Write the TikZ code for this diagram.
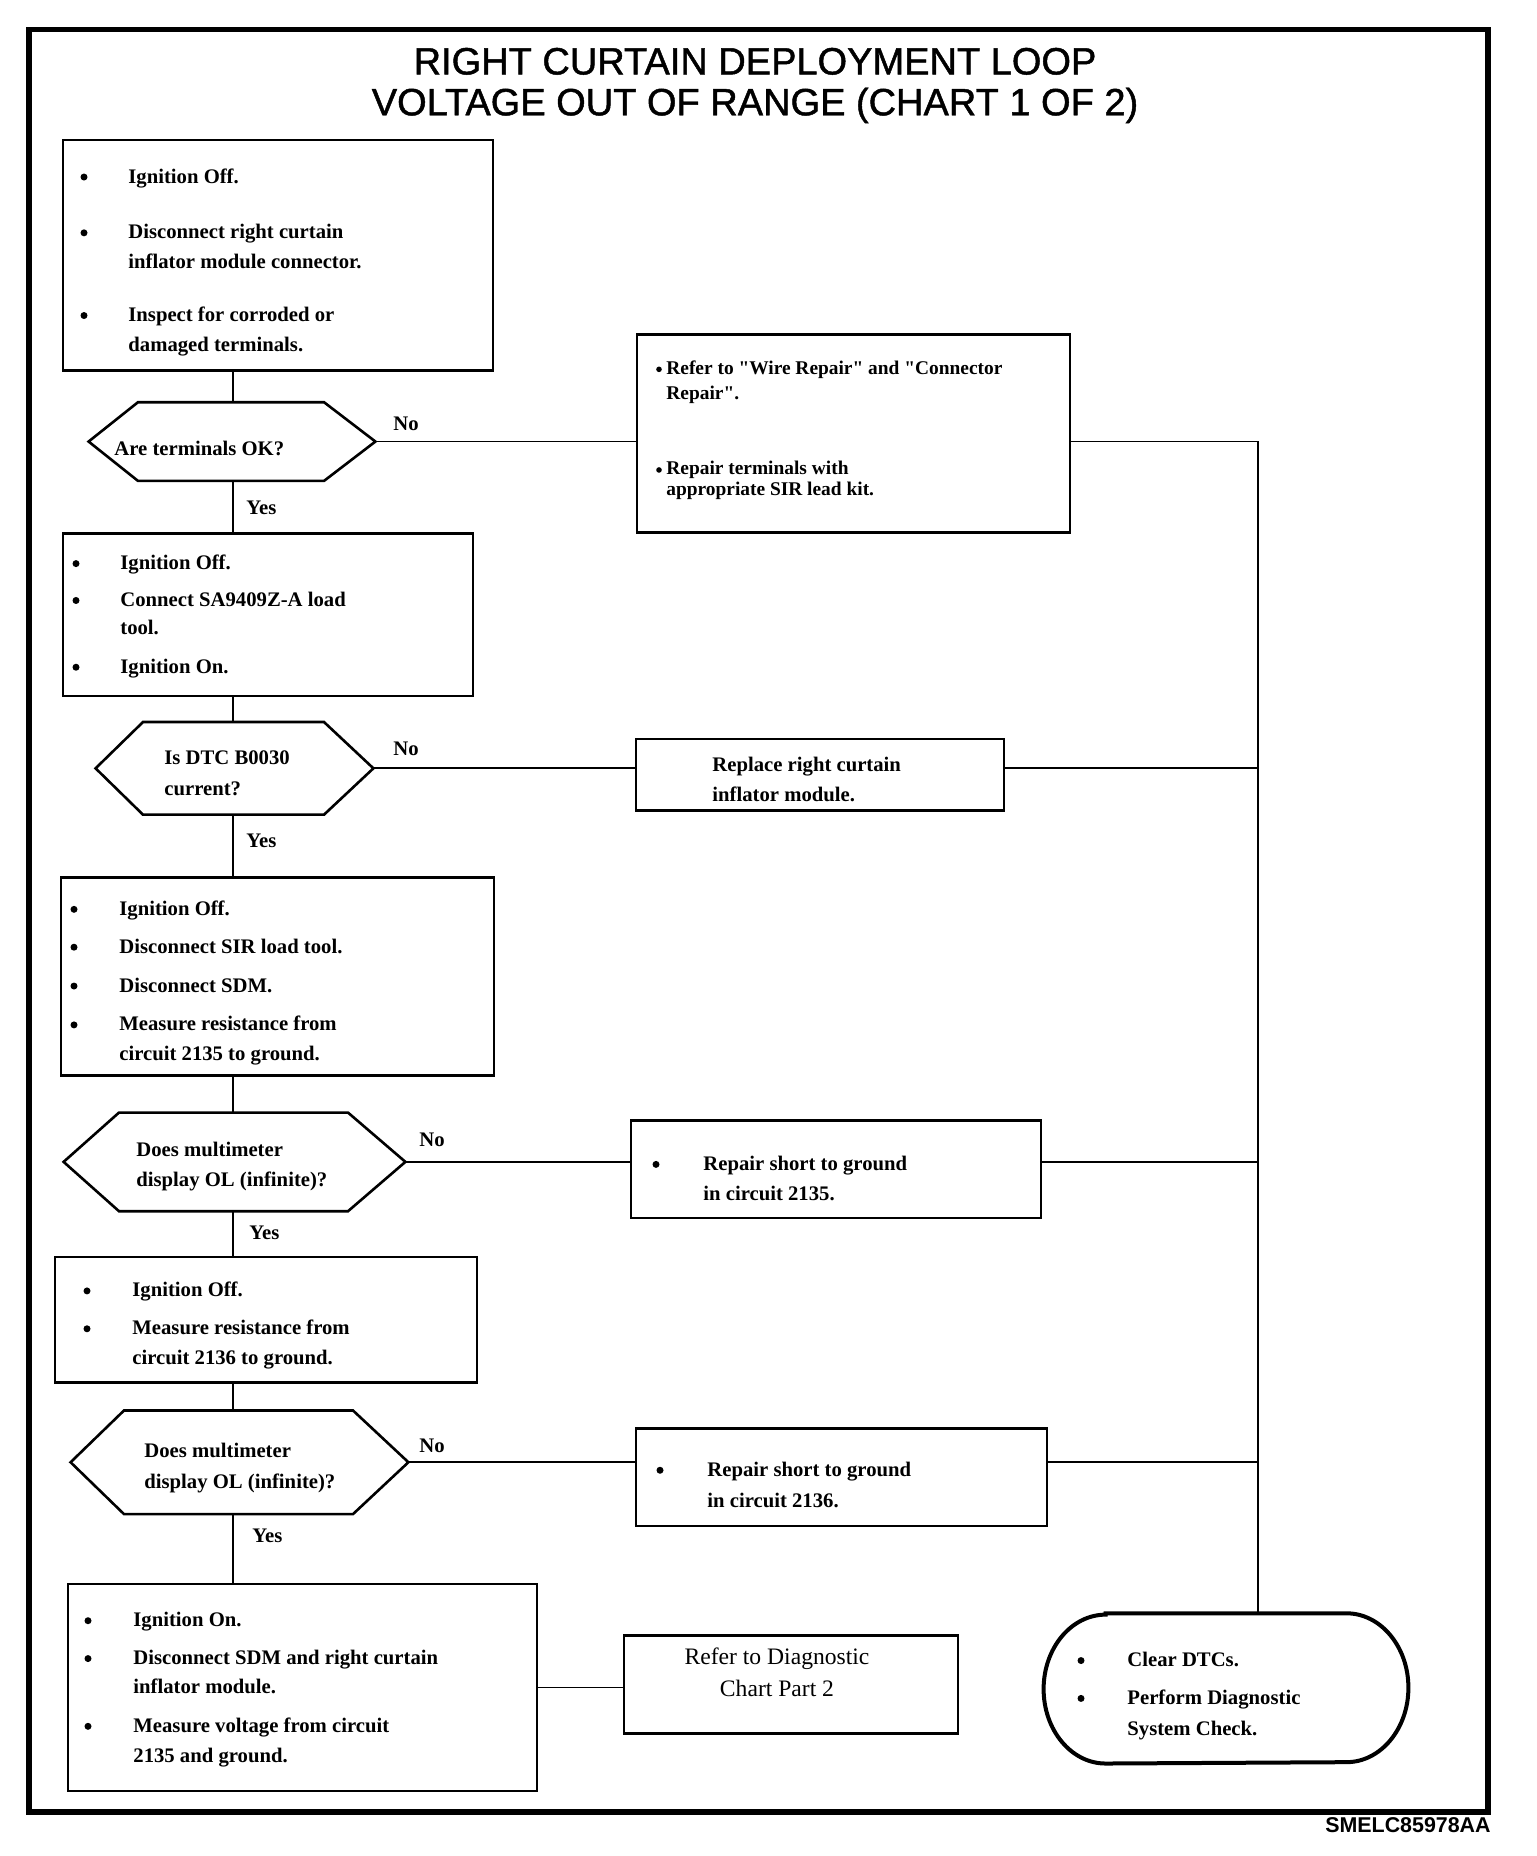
\documentclass[tikz,border=0pt]{standalone}
\usepackage{fontspec}
\setmainfont{Liberation Serif}
\newfontfamily\sansf{Liberation Sans}
\newfontfamily\sanstitle[FakeBold=1.2]{Liberation Sans}
\usetikzlibrary{fit,calc}
\newcommand\bodyf{\fontsize{10.35pt}{12pt}\selectfont\bfseries}
\newcommand\rfont{\fontsize{9.7pt}{11pt}\selectfont\bfseries}
\newcommand\partf{\fontsize{11.8pt}{13pt}\selectfont}
\newcommand\titlef{\fontsize{19pt}{22pt}\selectfont\sanstitle}
\newcommand\footf{\fontsize{10.7pt}{12pt}\selectfont\sansf\bfseries}
\newcommand\dq{\XeTeXglyph\XeTeXcharglyph"22\relax}
\newcommand\hexa[7]{% name, left, tl, tr, right, top, bottom
  \node[fit={(#2,#6) (#5,#7)}, inner sep=0pt] (#1) {};
  \draw[hexs] (#1.west) -- (#3,#6) -- (#4,#6) -- (#1.east) -- (#4,#7) -- (#3,#7) -- cycle;}
% bullet dot (name, x, baseline y)
\newcommand\bdot[3]{\node[dot] (#1) at (#2,#3-6) {};}
\begin{document}
\begin{tikzpicture}[x=0.5pt,y=-0.5pt,
  box/.style={draw, line width=1.3pt, inner sep=0pt},
  conn/.style={line width=0.9pt},
  hexs/.style={line width=1.3pt, line join=miter},
  txt/.style={inner sep=0pt, anchor=base west, font=\bodyf},
  rtxt/.style={inner sep=0pt, anchor=base west, font=\rfont},
  dot/.style={circle, fill=black, inner sep=0pt, minimum size=3.5pt},
  sdot/.style={circle, fill=black, inner sep=0pt, minimum size=2.8pt},
  ctxt/.style={inner sep=0pt, anchor=base, font=\partf},
  lbl/.style={inner sep=0pt, anchor=base west, font=\bodyf}]
\useasboundingbox (0,0) rectangle (1536,1856);
\node[inner sep=0pt, anchor=base east, font=\footf] (code) at (1491,1832) {SMELC85978AA};

\begin{scope}[yscale=0.9963, yshift=0.65pt]
% frame and titles
\node[draw, line width=2.6pt, inner sep=0pt, fit={(29,31) (1488,1820)}] (frame) {};
\node[inner sep=0pt, anchor=base, font=\titlef] (title1) at (755,76) {RIGHT CURTAIN DEPLOYMENT LOOP};
\node[inner sep=0pt, anchor=base, font=\titlef] (title2) at (755,117) {VOLTAGE OUT OF RANGE (CHART 1 OF 2)};

% boxes
\node[box, fit={(63,142) (493,373)}] (b1) {};
\node[box, fit={(63,537) (473,700)}] (b2) {};
\node[box, fit={(61,882) (494,1081)}] (b3) {};
\node[box, fit={(55,1263) (477,1389)}] (b4) {};
\node[box, fit={(68,1591) (537,1799)}] (b5) {};
\node[box, fit={(637,337) (1070,536)}] (r1) {};
\node[box, fit={(636,743) (1004,815)}] (r2) {};
\node[box, fit={(631,1126) (1041,1224)}] (r3) {};
\node[box, fit={(636,1435) (1047,1533)}] (r4) {};
\node[box, fit={(624,1643) (958,1741)}] (r5) {};

% decisions
\hexa{d1}{89}{138}{324}{375}{405}{484}
\hexa{d2}{96}{143}{324}{373}{726}{819}
\hexa{d3}{64}{119}{348}{405}{1118}{1217}
\hexa{d4}{71}{124}{353}{408}{1417}{1521}

% terminal
\node[fit={(1044,1621) (1408,1771)}, inner sep=0pt] (endn) {};
\draw[line width=2pt] ($(endn.north west)+(62,0)$) -- ($(endn.north east)+(-62,0)$)
  arc[start angle=90, end angle=-90, x radius=31pt, y radius=37.36pt]
  -- ($(endn.south west)+(62,0)$)
  arc[start angle=270, end angle=90, x radius=31pt, y radius=37.36pt] -- cycle;

% connectors
\coordinate (sp) at (233,0);
\coordinate (tr) at (1258,0);
\draw[conn] (b1.south -| sp) -- (d1.north -| sp);
\draw[conn] (d1.south -| sp) -- (b2.north -| sp);
\draw[conn] (b2.south -| sp) -- (d2.north -| sp);
\draw[conn] (d2.south -| sp) -- (b3.north -| sp);
\draw[conn] (b3.south -| sp) -- (d3.north -| sp);
\draw[conn] (d3.south -| sp) -- (b4.north -| sp);
\draw[conn] (b4.south -| sp) -- (d4.north -| sp);
\draw[conn] (d4.south -| sp) -- (b5.north -| sp);
\draw[conn] (d1.east) -- (d1.east -| r1.west);
\draw[conn] (d2.east) -- (d2.east -| r2.west);
\draw[conn] (d3.east) -- (d3.east -| r3.west);
\draw[conn] (d4.east) -- (d4.east -| r4.west);
\draw[conn] (d1.east -| r1.east) -- (d1.east -| tr) -- (tr |- endn.north);
\draw[conn] (d2.east -| r2.east) -- (d2.east -| tr);
\draw[conn] (d3.east -| r3.east) -- (d3.east -| tr);
\draw[conn] (d4.east -| r4.east) -- (d4.east -| tr);
\draw[conn] (b5.east) -- (b5.east -| r5.west);

% labels
\node[lbl] (no1) at (393,433) {No};
\node[lbl] (yes1) at (246,518) {Yes};
\node[lbl] (no2) at (393,760) {No};
\node[lbl] (yes2) at (246,852) {Yes};
\node[lbl] (no3) at (419,1152) {No};
\node[lbl] (yes3) at (249,1245) {Yes};
\node[lbl] (no4) at (419,1459) {No};
\node[lbl] (yes4) at (252,1550) {Yes};

% B1 text
\bdot{b1u1}{84}{185}
\node[txt] (b1t1) at (128,185) {Ignition Off.};
\bdot{b1u2}{84}{241}
\node[txt] (b1t2) at (128,241) {Disconnect right curtain};
\node[txt] (b1t3) at (128,271) {inflator module connector.};
\bdot{b1u3}{84}{324}
\node[txt] (b1t4) at (128,324) {Inspect for corroded or};
\node[txt] (b1t5) at (128,354) {damaged terminals.};

% D1 text
\node[txt] (d1t) at (114,458) {Are terminals OK?};

% R1 text
\node[sdot] (r1u1) at (659,372) {};
\node[rtxt] (r1t1) at (666,377) {Refer to \dq Wire Repair\dq\ and \dq Connector};
\node[rtxt] (r1t2) at (666,402) {Repair\dq.};
\node[sdot] (r1u2) at (659,473) {};
\node[rtxt] (r1t3) at (666,478) {Repair terminals with};
\node[rtxt] (r1t4) at (666,499) {appropriate SIR lead kit.};

% B2 text
\bdot{b2u1}{76}{573}
\node[txt] (b2t1) at (120,573) {Ignition Off.};
\bdot{b2u2}{76}{610}
\node[txt] (b2t2) at (120,610) {Connect SA9409Z-A load};
\node[txt] (b2t3) at (120,638) {tool.};
\bdot{b2u3}{76}{677}
\node[txt] (b2t4) at (120,677) {Ignition On.};

% D2 text
\node[txt] (d2t1) at (164,769) {Is DTC B0030};
\node[txt] (d2t2) at (164,800) {current?};

% R2 text
\node[txt] (r2t1) at (712,776) {Replace right curtain};
\node[txt] (r2t2) at (712,806) {inflator module.};

% B3 text
\bdot{b3u1}{74}{920}
\node[txt] (b3t1) at (119,920) {Ignition Off.};
\bdot{b3u2}{74}{958}
\node[txt] (b3t2) at (119,958) {Disconnect SIR load tool.};
\bdot{b3u3}{74}{997}
\node[txt] (b3t3) at (119,997) {Disconnect SDM.};
\bdot{b3u4}{74}{1036}
\node[txt] (b3t4) at (119,1036) {Measure resistance from};
\node[txt] (b3t5) at (119,1066) {circuit 2135 to ground.};

% D3 text
\node[txt] (d3t1) at (136,1162) {Does multimeter};
\node[txt] (d3t2) at (136,1192) {display OL (infinite)?};

% R3 text
\bdot{r3u1}{656}{1176}
\node[txt] (r3t1) at (703,1176) {Repair short to ground};
\node[txt] (r3t2) at (703,1206) {in circuit 2135.};

% B4 text
\bdot{b4u1}{87}{1303}
\node[txt] (b4t1) at (132,1303) {Ignition Off.};
\bdot{b4u2}{87}{1341}
\node[txt] (b4t2) at (132,1341) {Measure resistance from};
\node[txt] (b4t3) at (132,1371) {circuit 2136 to ground.};

% D4 text
\node[txt] (d4t1) at (144,1464) {Does multimeter};
\node[txt] (d4t2) at (144,1495) {display OL (infinite)?};

% R4 text
\bdot{r4u1}{660}{1483}
\node[txt] (r4t1) at (707,1483) {Repair short to ground};
\node[txt] (r4t2) at (707,1514) {in circuit 2136.};

% B5 text
\bdot{b5u1}{88}{1634}
\node[txt] (b5t1) at (133,1634) {Ignition On.};
\bdot{b5u2}{88}{1672}
\node[txt] (b5t2) at (133,1672) {Disconnect SDM and right curtain};
\node[txt] (b5t3) at (133,1701) {inflator module.};
\bdot{b5u3}{88}{1740}
\node[txt] (b5t4) at (133,1740) {Measure voltage from circuit};
\node[txt] (b5t5) at (133,1770) {2135 and ground.};

% R5 text
\node[ctxt] (r5t1) at (777,1672) {Refer to Diagnostic};
\node[ctxt] (r5t2) at (777,1704) {Chart Part 2};

% terminal text
\bdot{e1u}{1081}{1674}
\node[txt] (e1t) at (1127,1674) {Clear DTCs.};
\bdot{e2u}{1081}{1712}
\node[txt] (e2t) at (1127,1712) {Perform Diagnostic};
\node[txt] (e3t) at (1127,1743) {System Check.};
\end{scope}
\end{tikzpicture}
\end{document}
